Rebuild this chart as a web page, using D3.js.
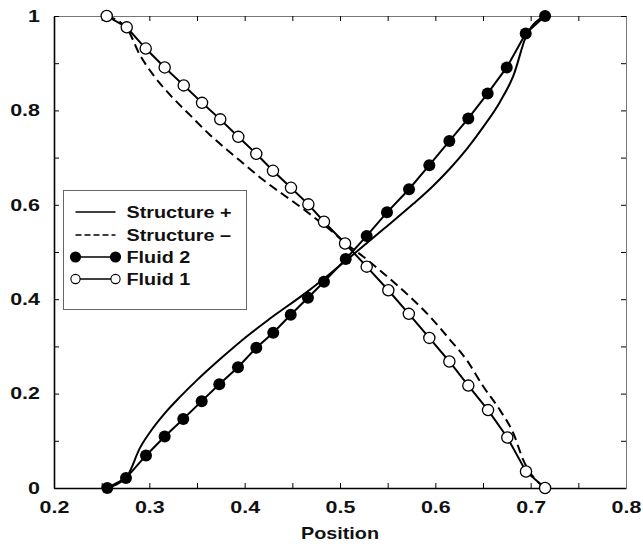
<!DOCTYPE html>
<html>
<head>
<meta charset="utf-8">
<script src="https://cdnjs.cloudflare.com/ajax/libs/d3/7.8.5/d3.min.js"></script>
<style>
body { margin: 0; background: #fff; }
svg text { fill: #111; }
</style>
</head>
<body>
<svg id="chart" width="643" height="544"></svg>
<script>

// fluid profiles (position, fraction)
const fluid1X = [0.2553, 0.2763, 0.2962, 0.3161, 0.3361, 0.3553, 0.3744, 0.3933, 0.4122, 0.4297, 0.4486, 0.4668,
    0.4832, 0.5053, 0.5280, 0.5507, 0.5722, 0.5937, 0.6147, 0.6346, 0.6553, 0.6755, 0.6951, 0.7151];
const fluid1Y = [1.0, 0.976, 0.931, 0.891, 0.853, 0.816, 0.781, 0.744, 0.708, 0.672, 0.636, 0.601,
    0.564, 0.518, 0.469, 0.419, 0.369, 0.318, 0.268, 0.217, 0.165, 0.107, 0.035, 0.0];

const fluid2X = [0.2559, 0.2755, 0.2965, 0.3161, 0.3356, 0.3549, 0.3734, 0.3930, 0.4122, 0.4300, 0.4483, 0.4664,
    0.4832, 0.5060, 0.5280, 0.5493, 0.5724, 0.5937, 0.6147, 0.6346, 0.6549, 0.6749, 0.6948, 0.7151];
const fluid2Y = [0.0, 0.021, 0.069, 0.109, 0.146, 0.184, 0.220, 0.256, 0.297, 0.329, 0.367, 0.403,
    0.437, 0.485, 0.534, 0.584, 0.633, 0.684, 0.735, 0.783, 0.836, 0.891, 0.963, 1.0];

// structure curves (no markers)
const structPlusX = [0.2556, 0.2763, 0.2902, 0.3042, 0.3182, 0.3322, 0.3497, 0.3776, 0.4021, 0.4266, 0.4651,
    0.4895, 0.5105, 0.5454, 0.5769, 0.5976, 0.6154, 0.6329, 0.6503, 0.6678, 0.6818, 0.6958, 0.7151];
const structPlusY = [0.0, 0.024, 0.085, 0.128, 0.163, 0.193, 0.228, 0.279, 0.321, 0.359, 0.415,
    0.454, 0.489, 0.548, 0.602, 0.640, 0.677, 0.718, 0.765, 0.818, 0.873, 0.960, 1.0];

const structMinusX = [0.2553, 0.2763, 0.2902, 0.3042, 0.3217, 0.3427, 0.3636, 0.3881, 0.4196, 0.4581, 0.4895,
    0.5105, 0.5245, 0.5454, 0.5734, 0.5944, 0.6154, 0.6329, 0.6503, 0.6678, 0.6818, 0.6923, 0.7151];
const structMinusY = [1.0, 0.974, 0.917, 0.875, 0.833, 0.790, 0.748, 0.7055, 0.6525, 0.596, 0.547,
    0.511, 0.490, 0.455, 0.405, 0.363, 0.314, 0.271, 0.215, 0.165, 0.116, 0.059, 0.0];

const xMajorTicks = [0.2, 0.3, 0.4, 0.5, 0.6, 0.7, 0.8];
const xTickLabels = ["0.2", "0.3", "0.4", "0.5", "0.6", "0.7", "0.8"];
const xMinorTicks = [0.25, 0.35, 0.45, 0.55, 0.65, 0.75];
const yMajorTicks = [0, 0.2, 0.4, 0.6, 0.8, 1];
const yTickLabels = ["0", "0.2", "0.4", "0.6", "0.8", "1"];
const yMinorTicks = [0.1, 0.3, 0.5, 0.7, 0.9];
const legendLabels = ["Structure +", "Structure \u2013", "Fluid 2", "Fluid 1"];

const FONT = '"Liberation Sans", Arial, Helvetica, sans-serif';
const tickStretch = 1.3;   // the scanned lettering is wide
const wordStretch = 1.2;

const margin = {top: 16, right: 17, bottom: 56, left: 54};
const width = 643 - margin.left - margin.right;
const height = 544 - margin.top - margin.bottom;

const svg = d3.select("#chart");
const g = svg.append("g").attr("transform", `translate(${margin.left},${margin.top})`);

const x = d3.scaleLinear().domain([0.2, 0.8]).range([0, width]);
const y = d3.scaleLinear().domain([0, 1]).range([height, 0]);

const zip = (xs, ys) => xs.map((v, i) => ({x: v, y: ys[i]}));
const fluid1 = zip(fluid1X, fluid1Y);
const fluid2 = zip(fluid2X, fluid2Y);
const structPlus = zip(structPlusX, structPlusY);
const structMinus = zip(structMinusX, structMinusY);

function styleAxis(sel, domainColor, domainWidth) {
    sel.attr("font-family", FONT).attr("font-size", 16.5).attr("font-weight", "bold");
    sel.select(".domain").attr("stroke", domainColor).attr("stroke-width", domainWidth);
    sel.selectAll(".tick line").attr("stroke", "#000").attr("stroke-width", 1);
    sel.selectAll(".tick text").attr("transform", `scale(${tickStretch},1)`);
}

// bottom axis, labelled ticks then the in-between ones
g.append("g")
    .attr("transform", `translate(0,${height})`)
    .call(d3.axisBottom(x).tickValues(xMajorTicks).tickFormat((d, i) => xTickLabels[i])
        .tickSizeInner(-5).tickSizeOuter(0).tickPadding(13))
    .call(s => styleAxis(s, "#000", 1.6));
g.append("g")
    .attr("transform", `translate(0,${height})`)
    .call(d3.axisBottom(x).tickValues(xMinorTicks).tickFormat("").tickSizeInner(-5).tickSizeOuter(0))
    .call(s => { styleAxis(s, "#000", 1.6); s.select(".domain").remove(); });

// top axis, ticks only
g.append("g")
    .call(d3.axisTop(x).tickValues(xMajorTicks.concat(xMinorTicks)).tickFormat("").tickSizeInner(-5).tickSizeOuter(0))
    .call(s => styleAxis(s, "#777", 1));

// left axis
g.append("g")
    .call(d3.axisLeft(y).tickValues(yMajorTicks).tickFormat((d, i) => yTickLabels[i])
        .tickSizeInner(-5).tickSizeOuter(0).tickPadding(14 / tickStretch))
    .call(s => styleAxis(s, "#000", 1.6));
g.append("g")
    .call(d3.axisLeft(y).tickValues(yMinorTicks).tickFormat("").tickSizeInner(-5).tickSizeOuter(0))
    .call(s => { styleAxis(s, "#000", 1.6); s.select(".domain").remove(); });

// right axis, ticks only
g.append("g")
    .attr("transform", `translate(${width},0)`)
    .call(d3.axisRight(y).tickValues(yMajorTicks.concat(yMinorTicks)).tickFormat("").tickSizeInner(-5).tickSizeOuter(0))
    .call(s => styleAxis(s, "#777", 1));

// x title
g.append("text")
    .attr("transform", `translate(${width / 2},${height + 51}) scale(${wordStretch},1)`)
    .attr("text-anchor", "middle")
    .attr("font-family", FONT)
    .attr("font-size", 16.5)
    .attr("font-weight", "bold")
    .text("Position");

// structure curves
const smoothLine = d3.line().x(d => x(d.x)).y(d => y(d.y)).curve(d3.curveMonotoneX);
g.append("path")
    .attr("d", smoothLine(structPlus))
    .attr("fill", "none").attr("stroke", "#000").attr("stroke-width", 2);
g.append("path")
    .attr("d", smoothLine(structMinus))
    .attr("fill", "none").attr("stroke", "#000").attr("stroke-width", 2)
    .attr("stroke-dasharray", "9,5");

// fluid lines with markers
const straightLine = d3.line().x(d => x(d.x)).y(d => y(d.y));
g.append("path")
    .attr("d", straightLine(fluid2))
    .attr("fill", "none").attr("stroke", "#000").attr("stroke-width", 2);
g.append("path")
    .attr("d", straightLine(fluid1))
    .attr("fill", "none").attr("stroke", "#000").attr("stroke-width", 2);

g.selectAll("circle.fluid2")
    .data(fluid2)
    .enter().append("circle")
    .attr("class", "fluid2")
    .attr("cx", d => x(d.x))
    .attr("cy", d => y(d.y))
    .attr("r", 6)
    .attr("fill", "#000");

g.selectAll("circle.fluid1")
    .data(fluid1)
    .enter().append("circle")
    .attr("class", "fluid1")
    .attr("cx", d => x(d.x))
    .attr("cy", d => y(d.y))
    .attr("r", 5.6)
    .attr("fill", "#fff")
    .attr("stroke", "#000")
    .attr("stroke-width", 1.3);

// legend
const legend = svg.append("g").attr("transform", "translate(63.5,190.5)");
legend.append("rect")
    .attr("width", 183).attr("height", 119)
    .attr("fill", "#fff").attr("stroke", "#666").attr("stroke-width", 1);

const rowY = [21.5, 44.5, 66.5, 88.5];
const rows = legend.selectAll("g.row")
    .data(legendLabels)
    .enter().append("g")
    .attr("class", "row")
    .attr("transform", (d, i) => `translate(0,${rowY[i]})`);

rows.append("line")
    .attr("x1", 12).attr("x2", 52)
    .attr("stroke", "#000").attr("stroke-width", 1.6)
    .attr("stroke-dasharray", (d, i) => i === 1 ? "6,3" : null);

rows.filter((d, i) => i >= 2).selectAll("circle")
    .data(d => [12, 52].map(cx => ({cx: cx, open: d === legendLabels[3]})))
    .enter().append("circle")
    .attr("cx", d => d.cx)
    .attr("r", d => d.open ? 4.6 : 5.6)
    .attr("fill", d => d.open ? "#fff" : "#000")
    .attr("stroke", "#000")
    .attr("stroke-width", d => d.open ? 1.1 : 0);

rows.append("text")
    .attr("transform", `translate(63,0) scale(${wordStretch},1)`)
    .attr("dy", "0.36em")
    .attr("font-family", FONT)
    .attr("font-size", 16.5)
    .attr("font-weight", "bold")
    .text(d => d);

</script>
</body>
</html>
